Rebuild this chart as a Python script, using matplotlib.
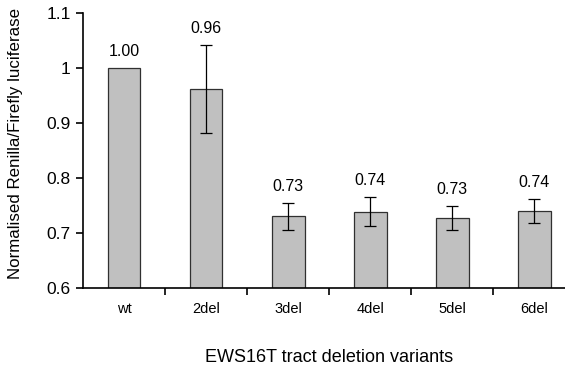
import matplotlib
matplotlib.use("Agg")
import matplotlib.pyplot as plt
import numpy as np

plt.rcParams['font.family'] = ['Liberation Sans', 'DejaVu Sans']

variants = ['wt', '2del', '3del', '4del', '5del', '6del']
means = [1.00, 0.962, 0.730, 0.739, 0.727, 0.740]
errors = [0.0, 0.080, 0.025, 0.027, 0.022, 0.022]
value_labels = ['1.00', '0.96', '0.73', '0.74', '0.73', '0.74']

fig = plt.figure(figsize=(5.65, 3.72), dpi=100)
ax = fig.add_axes([0.147, 0.226, 0.871, 0.739])

x = np.arange(len(variants))
ax.bar(x, means, width=0.4, color='#c0c0c0', edgecolor='#303030', linewidth=0.9)
ax.errorbar(x[1:], means[1:], yerr=errors[1:], fmt='none', ecolor='black',
            elinewidth=0.9, capsize=4, capthick=0.9)

for xi, m, e, lab in zip(x, means, errors, value_labels):
    ax.text(xi, m + e + 0.016, lab, ha='center', va='bottom', fontsize=11.5)

ax.set_xlim(-0.5, 5.5)
ax.set_ylim(0.6, 1.1)
ax.set_yticks([0.6, 0.7, 0.8, 0.9, 1.0, 1.1])
ax.set_yticklabels(['0.6', '0.7', '0.8', '0.9', '1', '1.1'], fontsize=12.5)
ax.set_xticks(x)
ax.set_xticklabels(variants, fontsize=10.5)
ax.set_xticks(np.arange(0.5, 5.5, 1), minor=True)
ax.tick_params(axis='x', which='major', length=0, pad=10)
ax.tick_params(axis='x', which='minor', length=5, width=1.2, direction='out')
ax.tick_params(axis='y', length=5, width=1.2, direction='out', pad=4)

ax.spines['top'].set_visible(False)
ax.spines['right'].set_visible(False)
ax.spines['left'].set_linewidth(1.2)
ax.spines['bottom'].set_linewidth(1.2)

fig.text(0.028, 0.615, 'Normalised Renilla/Firefly luciferase', rotation=90,
         ha='center', va='center', fontsize=12.2)
fig.text(0.582, 0.027, 'EWS16T tract deletion variants', ha='center', fontsize=13)

fig.savefig('out.png', dpi=100)
